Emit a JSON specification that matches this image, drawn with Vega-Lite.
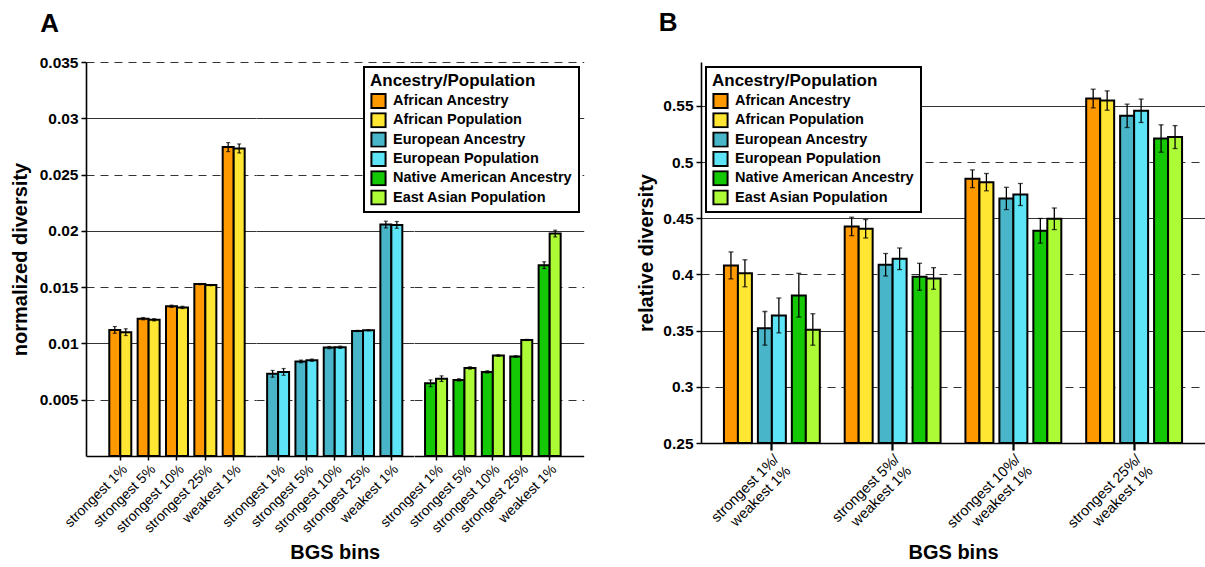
{
  "$schema": "https://vega.github.io/schema/vega-lite/v6.json",
  "padding": {"left": 10, "top": 10, "right": 0, "bottom": 0},
  "config": {
    "font": "Liberation Sans",
    "view": {"stroke": null},
    "axis": {
      "domainColor": "black", "domainWidth": 1.6,
      "tickColor": "black", "tickWidth": 1.5,
      "labelColor": "black", "titleColor": "black",
      "titleFontSize": 20, "titleFontWeight": "bold",
      "gridColor": "#333", "gridWidth": 1.2, "gridOpacity": 1
    },
    "axisY": {"labelFontSize": 15.5, "labelFontWeight": "bold", "tickSize": 5, "labelPadding": 3, "titlePadding": 6},
    "axisX": {"labelFontSize": 14, "labelFontWeight": "normal", "labelAngle": -45, "grid": false},
    "legend": {
      "titleFontSize": 17, "titleFontWeight": "bold", "titleColor": "black",
      "labelFontSize": 14.5, "labelFontWeight": "bold", "labelColor": "black", "labelLimit": 300,
      "symbolType": "square", "symbolSize": 200, "symbolStrokeColor": "black", "symbolStrokeWidth": 2,
      "strokeColor": "black", "strokeWidth": 2, "fillColor": "white", "clipHeight": 16,
      "padding": 6, "rowPadding": 3.3, "titlePadding": 3, "labelOffset": 6, "offset": 5
    },
    "title": {"fontSize": 26, "fontWeight": "bold", "anchor": "start", "color": "black"}
  },
  "datasets": {
    "a": [
      {"pop": "African Ancestry", "region": "African", "kind": "Ancestry", "bin": "strongest 1%", "v": 0.0112, "lo": 0.0109, "hi": 0.0115},
      {"pop": "African Ancestry", "region": "African", "kind": "Ancestry", "bin": "strongest 5%", "v": 0.0122, "lo": 0.0121, "hi": 0.0123},
      {"pop": "African Ancestry", "region": "African", "kind": "Ancestry", "bin": "strongest 10%", "v": 0.0133, "lo": 0.0132, "hi": 0.0134},
      {"pop": "African Ancestry", "region": "African", "kind": "Ancestry", "bin": "strongest 25%", "v": 0.01527, "lo": 0.01522, "hi": 0.01532},
      {"pop": "African Ancestry", "region": "African", "kind": "Ancestry", "bin": "weakest 1%", "v": 0.02744, "lo": 0.02704, "hi": 0.02784},
      {"pop": "African Population", "region": "African", "kind": "Population", "bin": "strongest 1%", "v": 0.011, "lo": 0.0107, "hi": 0.0113},
      {"pop": "African Population", "region": "African", "kind": "Population", "bin": "strongest 5%", "v": 0.0121, "lo": 0.012, "hi": 0.0122},
      {"pop": "African Population", "region": "African", "kind": "Population", "bin": "strongest 10%", "v": 0.0132, "lo": 0.0131, "hi": 0.0133},
      {"pop": "African Population", "region": "African", "kind": "Population", "bin": "strongest 25%", "v": 0.01518, "lo": 0.01513, "hi": 0.01523},
      {"pop": "African Population", "region": "African", "kind": "Population", "bin": "weakest 1%", "v": 0.02732, "lo": 0.02692, "hi": 0.02772},
      {"pop": "European Ancestry", "region": "European", "kind": "Ancestry", "bin": "strongest 1%", "v": 0.0073, "lo": 0.007, "hi": 0.0076},
      {"pop": "European Ancestry", "region": "European", "kind": "Ancestry", "bin": "strongest 5%", "v": 0.0084, "lo": 0.00828, "hi": 0.00852},
      {"pop": "European Ancestry", "region": "European", "kind": "Ancestry", "bin": "strongest 10%", "v": 0.00963, "lo": 0.00953, "hi": 0.00973},
      {"pop": "European Ancestry", "region": "European", "kind": "Ancestry", "bin": "strongest 25%", "v": 0.01111, "lo": 0.01106, "hi": 0.01116},
      {"pop": "European Ancestry", "region": "European", "kind": "Ancestry", "bin": "weakest 1%", "v": 0.02056, "lo": 0.02026, "hi": 0.02086},
      {"pop": "European Population", "region": "European", "kind": "Population", "bin": "strongest 1%", "v": 0.00747, "lo": 0.00717, "hi": 0.00777},
      {"pop": "European Population", "region": "European", "kind": "Population", "bin": "strongest 5%", "v": 0.00851, "lo": 0.00841, "hi": 0.00861},
      {"pop": "European Population", "region": "European", "kind": "Population", "bin": "strongest 10%", "v": 0.00966, "lo": 0.00956, "hi": 0.00976},
      {"pop": "European Population", "region": "European", "kind": "Population", "bin": "strongest 25%", "v": 0.01117, "lo": 0.01112, "hi": 0.01122},
      {"pop": "European Population", "region": "European", "kind": "Population", "bin": "weakest 1%", "v": 0.02053, "lo": 0.02023, "hi": 0.02083},
      {"pop": "Native American Ancestry", "region": "Native American / East Asian", "kind": "Ancestry", "bin": "strongest 1%", "v": 0.00646, "lo": 0.00616, "hi": 0.00676},
      {"pop": "Native American Ancestry", "region": "Native American / East Asian", "kind": "Ancestry", "bin": "strongest 5%", "v": 0.00676, "lo": 0.00666, "hi": 0.00686},
      {"pop": "Native American Ancestry", "region": "Native American / East Asian", "kind": "Ancestry", "bin": "strongest 10%", "v": 0.00747, "lo": 0.00737, "hi": 0.00757},
      {"pop": "Native American Ancestry", "region": "Native American / East Asian", "kind": "Ancestry", "bin": "strongest 25%", "v": 0.00883, "lo": 0.00876, "hi": 0.0089},
      {"pop": "Native American Ancestry", "region": "Native American / East Asian", "kind": "Ancestry", "bin": "weakest 1%", "v": 0.01695, "lo": 0.01665, "hi": 0.01725},
      {"pop": "East Asian Population", "region": "Native American / East Asian", "kind": "Population", "bin": "strongest 1%", "v": 0.00687, "lo": 0.00662, "hi": 0.00712},
      {"pop": "East Asian Population", "region": "Native American / East Asian", "kind": "Population", "bin": "strongest 5%", "v": 0.00782, "lo": 0.00772, "hi": 0.00792},
      {"pop": "East Asian Population", "region": "Native American / East Asian", "kind": "Population", "bin": "strongest 10%", "v": 0.00892, "lo": 0.00885, "hi": 0.00899},
      {"pop": "East Asian Population", "region": "Native American / East Asian", "kind": "Population", "bin": "strongest 25%", "v": 0.01031, "lo": 0.01026, "hi": 0.01036},
      {"pop": "East Asian Population", "region": "Native American / East Asian", "kind": "Population", "bin": "weakest 1%", "v": 0.01976, "lo": 0.01946, "hi": 0.02006}
    ],
    "b": [
      {"pop": "African Ancestry", "region": "African", "kind": "Ancestry", "bin": "strongest 1%/weakest 1%", "v": 0.408, "lo": 0.396, "hi": 0.42},
      {"pop": "African Population", "region": "African", "kind": "Population", "bin": "strongest 1%/weakest 1%", "v": 0.401, "lo": 0.389, "hi": 0.413},
      {"pop": "European Ancestry", "region": "European", "kind": "Ancestry", "bin": "strongest 1%/weakest 1%", "v": 0.352, "lo": 0.337, "hi": 0.367},
      {"pop": "European Population", "region": "European", "kind": "Population", "bin": "strongest 1%/weakest 1%", "v": 0.3635, "lo": 0.348, "hi": 0.379},
      {"pop": "Native American Ancestry", "region": "Native American / East Asian", "kind": "Ancestry", "bin": "strongest 1%/weakest 1%", "v": 0.3813, "lo": 0.362, "hi": 0.401},
      {"pop": "East Asian Population", "region": "Native American / East Asian", "kind": "Population", "bin": "strongest 1%/weakest 1%", "v": 0.3508, "lo": 0.337, "hi": 0.365},
      {"pop": "African Ancestry", "region": "African", "kind": "Ancestry", "bin": "strongest 5%/weakest 1%", "v": 0.4427, "lo": 0.4345, "hi": 0.4509},
      {"pop": "African Population", "region": "African", "kind": "Population", "bin": "strongest 5%/weakest 1%", "v": 0.4406, "lo": 0.4324, "hi": 0.4488},
      {"pop": "European Ancestry", "region": "European", "kind": "Ancestry", "bin": "strongest 5%/weakest 1%", "v": 0.4086, "lo": 0.3986, "hi": 0.4186},
      {"pop": "European Population", "region": "European", "kind": "Population", "bin": "strongest 5%/weakest 1%", "v": 0.4139, "lo": 0.4043, "hi": 0.4235},
      {"pop": "Native American Ancestry", "region": "Native American / East Asian", "kind": "Ancestry", "bin": "strongest 5%/weakest 1%", "v": 0.3979, "lo": 0.3859, "hi": 0.4099},
      {"pop": "East Asian Population", "region": "Native American / East Asian", "kind": "Population", "bin": "strongest 5%/weakest 1%", "v": 0.3964, "lo": 0.3868, "hi": 0.406},
      {"pop": "African Ancestry", "region": "African", "kind": "Ancestry", "bin": "strongest 10%/weakest 1%", "v": 0.4851, "lo": 0.4772, "hi": 0.493},
      {"pop": "African Population", "region": "African", "kind": "Population", "bin": "strongest 10%/weakest 1%", "v": 0.4821, "lo": 0.4744, "hi": 0.4898},
      {"pop": "European Ancestry", "region": "European", "kind": "Ancestry", "bin": "strongest 10%/weakest 1%", "v": 0.4676, "lo": 0.4577, "hi": 0.4775},
      {"pop": "European Population", "region": "European", "kind": "Population", "bin": "strongest 10%/weakest 1%", "v": 0.4711, "lo": 0.4613, "hi": 0.4809},
      {"pop": "Native American Ancestry", "region": "Native American / East Asian", "kind": "Ancestry", "bin": "strongest 10%/weakest 1%", "v": 0.4388, "lo": 0.4278, "hi": 0.4498},
      {"pop": "East Asian Population", "region": "Native American / East Asian", "kind": "Population", "bin": "strongest 10%/weakest 1%", "v": 0.4495, "lo": 0.4399, "hi": 0.4591},
      {"pop": "African Ancestry", "region": "African", "kind": "Ancestry", "bin": "strongest 25%/weakest 1%", "v": 0.5565, "lo": 0.5482, "hi": 0.5648},
      {"pop": "African Population", "region": "African", "kind": "Population", "bin": "strongest 25%/weakest 1%", "v": 0.5547, "lo": 0.5461, "hi": 0.5633},
      {"pop": "European Ancestry", "region": "European", "kind": "Ancestry", "bin": "strongest 25%/weakest 1%", "v": 0.5411, "lo": 0.5307, "hi": 0.5515},
      {"pop": "European Population", "region": "European", "kind": "Population", "bin": "strongest 25%/weakest 1%", "v": 0.5456, "lo": 0.5352, "hi": 0.556},
      {"pop": "Native American Ancestry", "region": "Native American / East Asian", "kind": "Ancestry", "bin": "strongest 25%/weakest 1%", "v": 0.5209, "lo": 0.5087, "hi": 0.5331},
      {"pop": "East Asian Population", "region": "Native American / East Asian", "kind": "Population", "bin": "strongest 25%/weakest 1%", "v": 0.5222, "lo": 0.512, "hi": 0.5324}
    ]
  },
  "resolve": {"legend": {"fill": "independent"}, "scale": {"xOffset": "independent"}},
  "spacing": 52,
  "hconcat": [
    {
      "title": {"text": "A", "dx": 30, "offset": 18},
      "data": {"name": "a"},
      "spacing": 0,
      "bounds": "flush",
      "resolve": {"legend": {"fill": "independent"}, "scale": {"xOffset": "independent"}},
      "hconcat": [
        {
          "width": 169.85, "height": 394,
          "transform": [{"filter": "datum.region == 'African'"}],
          "encoding": {
            "x": {"field": "bin", "type": "nominal", "sort": ["strongest 1%", "strongest 5%", "strongest 10%", "strongest 25%", "weakest 1%"],
                  "scale": {"paddingInner": 0.224, "paddingOuter": 0.6076, "align": 0.676},
                  "axis": {"title": null, "tickSize": 4}},
            "xOffset": {"field": "kind", "type": "nominal", "sort": ["Ancestry", "Population"], "scale": {"paddingInner": 0, "paddingOuter": 0}},
            "y": {"field": "v", "type": "quantitative", "scale": {"domain": [0, 0.035], "nice": false},
                  "axis": {"title": "normalized diversity", "titlePadding": 9, "values": [0.005, 0.01, 0.015, 0.02, 0.025, 0.03, 0.035], "format": ".3~f", "grid": true,
                           "gridDash": {"condition": {"test": "round(datum.value * 1000) % 10 == 5", "value": [8, 6]}, "value": []}}}
          },
          "layer": [
            {"mark": {"type": "bar", "stroke": "black", "strokeWidth": 2},
             "encoding": {"fill": {"field": "pop", "type": "nominal",
               "scale": {"domain": ["African Ancestry", "African Population", "European Ancestry", "European Population", "Native American Ancestry", "East Asian Population"],
                         "range": ["#FF9900", "#FFE632", "#48B6C8", "#5DE5F7", "#14C805", "#ADFB36"]}, "legend": null}}},
            {"mark": {"type": "rule", "strokeWidth": 1.2, "color": "black"}, "encoding": {"y": {"field": "lo", "type": "quantitative"}, "y2": {"field": "hi"}}},
            {"mark": {"type": "tick", "orient": "horizontal", "size": 4, "thickness": 1.2, "color": "black"}, "encoding": {"y": {"field": "lo", "type": "quantitative"}}},
            {"mark": {"type": "tick", "orient": "horizontal", "size": 4, "thickness": 1.2, "color": "black"}, "encoding": {"y": {"field": "hi", "type": "quantitative"}}}
          ]
        },
        {
          "width": 157.45, "height": 394,
          "transform": [{"filter": "datum.region == 'European'"}],
          "encoding": {
            "x": {"field": "bin", "type": "nominal", "sort": ["strongest 1%", "strongest 5%", "strongest 10%", "strongest 25%", "weakest 1%"],
                  "scale": {"paddingInner": 0.224, "paddingOuter": 0.393, "align": 0.5},
                  "axis": {"title": "BGS bins", "tickSize": 4, "titlePadding": 7}},
            "xOffset": {"field": "kind", "type": "nominal", "sort": ["Ancestry", "Population"], "scale": {"paddingInner": 0, "paddingOuter": 0}},
            "y": {"field": "v", "type": "quantitative", "scale": {"domain": [0, 0.035], "nice": false},
                  "axis": {"title": null, "domain": false, "ticks": false, "labels": false, "values": [0.005, 0.01, 0.015, 0.02, 0.025, 0.03, 0.035], "grid": true,
                           "gridDash": {"condition": {"test": "round(datum.value * 1000) % 10 == 5", "value": [8, 6]}, "value": []}}}
          },
          "layer": [
            {"mark": {"type": "bar", "stroke": "black", "strokeWidth": 2},
             "encoding": {"fill": {"field": "pop", "type": "nominal",
               "scale": {"domain": ["African Ancestry", "African Population", "European Ancestry", "European Population", "Native American Ancestry", "East Asian Population"],
                         "range": ["#FF9900", "#FFE632", "#48B6C8", "#5DE5F7", "#14C805", "#ADFB36"]}, "legend": null}}},
            {"mark": {"type": "rule", "strokeWidth": 1.2, "color": "black"}, "encoding": {"y": {"field": "lo", "type": "quantitative"}, "y2": {"field": "hi"}}},
            {"mark": {"type": "tick", "orient": "horizontal", "size": 4, "thickness": 1.2, "color": "black"}, "encoding": {"y": {"field": "lo", "type": "quantitative"}}},
            {"mark": {"type": "tick", "orient": "horizontal", "size": 4, "thickness": 1.2, "color": "black"}, "encoding": {"y": {"field": "hi", "type": "quantitative"}}}
          ]
        },
        {
          "width": 169.7, "height": 394,
          "transform": [{"filter": "datum.region == 'Native American / East Asian'"}],
          "encoding": {
            "x": {"field": "bin", "type": "nominal", "sort": ["strongest 1%", "strongest 5%", "strongest 10%", "strongest 25%", "weakest 1%"],
                  "scale": {"paddingInner": 0.224, "paddingOuter": 0.6, "align": 0.324},
                  "axis": {"title": null, "tickSize": 4}},
            "xOffset": {"field": "kind", "type": "nominal", "sort": ["Ancestry", "Population"], "scale": {"paddingInner": 0, "paddingOuter": 0}},
            "y": {"field": "v", "type": "quantitative", "scale": {"domain": [0, 0.035], "nice": false},
                  "axis": {"title": null, "domain": false, "ticks": false, "labels": false, "values": [0.005, 0.01, 0.015, 0.02, 0.025, 0.03, 0.035], "grid": true,
                           "gridDash": {"condition": {"test": "round(datum.value * 1000) % 10 == 5", "value": [8, 6]}, "value": []}}}
          },
          "layer": [
            {"mark": {"type": "bar", "stroke": "black", "strokeWidth": 2},
             "encoding": {"fill": {"field": "pop", "type": "nominal",
               "scale": {"domain": ["African Ancestry", "African Population", "European Ancestry", "European Population", "Native American Ancestry", "East Asian Population"],
                         "range": ["#FF9900", "#FFE632", "#48B6C8", "#5DE5F7", "#14C805", "#ADFB36"]},
               "legend": {"title": "Ancestry/Population", "orient": "top-right"}}}},
            {"mark": {"type": "rule", "strokeWidth": 1.2, "color": "black"}, "encoding": {"y": {"field": "lo", "type": "quantitative"}, "y2": {"field": "hi"}}},
            {"mark": {"type": "tick", "orient": "horizontal", "size": 4, "thickness": 1.2, "color": "black"}, "encoding": {"y": {"field": "lo", "type": "quantitative"}}},
            {"mark": {"type": "tick", "orient": "horizontal", "size": 4, "thickness": 1.2, "color": "black"}, "encoding": {"y": {"field": "hi", "type": "quantitative"}}}
          ]
        }
      ]
    },
    {
      "title": {"text": "B", "dx": 22, "offset": 26},
      "data": {"name": "b"},
      "width": 504, "height": 381,
      "encoding": {
        "x": {"field": "bin", "type": "nominal", "sort": ["strongest 1%/weakest 1%", "strongest 5%/weakest 1%", "strongest 10%/weakest 1%", "strongest 25%/weakest 1%"],
              "scale": {"paddingInner": 0.206, "paddingOuter": 0.19},
              "axis": {"title": "BGS bins", "tickSize": 7, "tickWidth": 2.2, "labelFontSize": 14.5, "titlePadding": 1,
                       "labelExpr": "[split(datum.label, '/')[0] + '/', split(datum.label, '/')[1]]"}},
        "y": {"field": "v", "type": "quantitative", "scale": {"domain": [0.25, 0.589], "nice": false, "zero": false},
              "axis": {"title": "relative diversity", "values": [0.25, 0.3, 0.35, 0.4, 0.45, 0.5, 0.55], "format": ".2~f", "grid": true,
                       "gridDash": {"condition": {"test": "round(datum.value * 100) % 10 == 0", "value": [8, 6]}, "value": []}}}
      },
      "resolve": {"scale": {"xOffset": "independent"}},
      "layer": [
        {
          "transform": [{"filter": "datum.kind == 'Ancestry'"}],
          "encoding": {
            "xOffset": {"field": "region", "type": "nominal", "sort": ["African", "European", "Native American / East Asian"],
                        "scale": {"paddingInner": 0.588, "paddingOuter": 0.206, "align": 0}}
          },
          "layer": [
            {"mark": {"type": "bar", "stroke": "black", "strokeWidth": 2},
             "encoding": {"y2": {"datum": 0.25}, "fill": {"field": "pop", "type": "nominal",
               "scale": {"domain": ["African Ancestry", "African Population", "European Ancestry", "European Population", "Native American Ancestry", "East Asian Population"],
                         "range": ["#FF9900", "#FFE632", "#48B6C8", "#5DE5F7", "#14C805", "#ADFB36"]},
               "legend": {"title": "Ancestry/Population", "orient": "top-left"}}}},
            {"mark": {"type": "rule", "strokeWidth": 1.3, "color": "black"}, "encoding": {"y": {"field": "lo", "type": "quantitative"}, "y2": {"field": "hi"}}},
            {"mark": {"type": "tick", "orient": "horizontal", "size": 5, "thickness": 1.3, "color": "black"}, "encoding": {"y": {"field": "lo", "type": "quantitative"}}},
            {"mark": {"type": "tick", "orient": "horizontal", "size": 5, "thickness": 1.3, "color": "black"}, "encoding": {"y": {"field": "hi", "type": "quantitative"}}}
          ]
        },
        {
          "transform": [{"filter": "datum.kind == 'Population'"}],
          "encoding": {
            "xOffset": {"field": "region", "type": "nominal", "sort": ["African", "European", "Native American / East Asian"],
                        "scale": {"paddingInner": 0.588, "paddingOuter": 0.206, "align": 1}}
          },
          "layer": [
            {"mark": {"type": "bar", "stroke": "black", "strokeWidth": 2},
             "encoding": {"y2": {"datum": 0.25}, "fill": {"field": "pop", "type": "nominal",
               "scale": {"domain": ["African Ancestry", "African Population", "European Ancestry", "European Population", "Native American Ancestry", "East Asian Population"],
                         "range": ["#FF9900", "#FFE632", "#48B6C8", "#5DE5F7", "#14C805", "#ADFB36"]}}}},
            {"mark": {"type": "rule", "strokeWidth": 1.3, "color": "black"}, "encoding": {"y": {"field": "lo", "type": "quantitative"}, "y2": {"field": "hi"}}},
            {"mark": {"type": "tick", "orient": "horizontal", "size": 5, "thickness": 1.3, "color": "black"}, "encoding": {"y": {"field": "lo", "type": "quantitative"}}},
            {"mark": {"type": "tick", "orient": "horizontal", "size": 5, "thickness": 1.3, "color": "black"}, "encoding": {"y": {"field": "hi", "type": "quantitative"}}}
          ]
        }
      ]
    }
  ]
}
